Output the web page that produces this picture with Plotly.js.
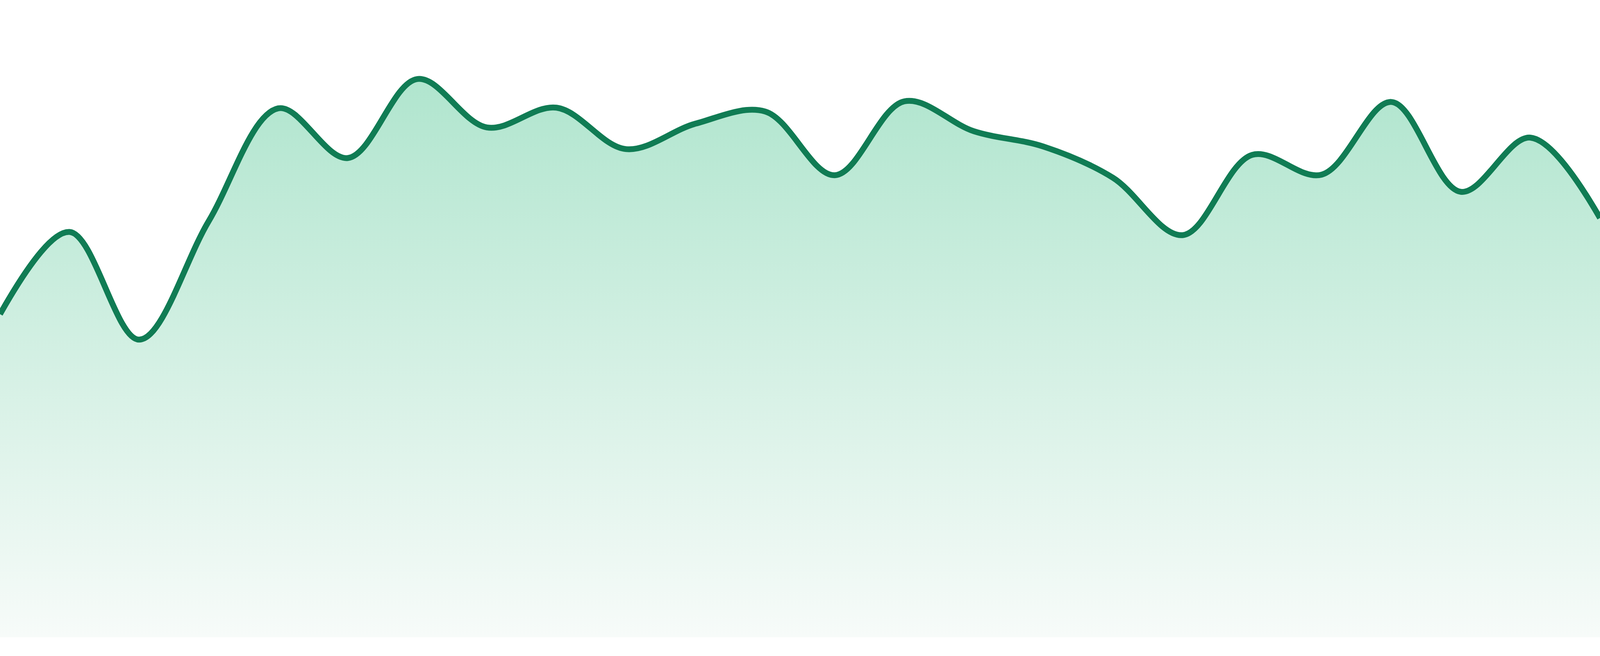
<!DOCTYPE html>
<html>
<head>
<meta charset="utf-8">
<script src="https://cdn.plot.ly/plotly-3.0.1.min.js"></script>
<style>
	html, body { margin: 0; padding: 0; background: #fff; overflow: hidden; }
	#chart { width: 100vw; height: 100vh; }
</style>
</head>
<body>
<div id="chart"></div>
<script>
/* Smooth area sparkline with a fading green fill. */
"use strict";

// 24 evenly spaced samples
const steps = [0, 1, 2, 3, 4, 5, 6, 7, 8, 9, 10, 11, 12, 13, 14, 15, 16, 17, 18, 19, 20, 21, 22, 23];
const values = [
	50.7, 63.6, 46.7, 65.3, 83.0, 75.2, 87.6, 80.0,
	83.1, 76.6, 80.6, 82.5, 72.5, 84.1, 79.4, 77.0,
	72.1, 63.1, 75.7, 72.6, 84.0, 69.9, 78.4, 65.8
];

const LINE = "#107c54";
const FILL_TOP = "#a6e2c8";
const FILL_BOTTOM = "#f7fbf9";

(function () {
	// the chart fills the whole window, whatever size it really is
	const W = window.innerWidth || 4800;
	const H = window.innerHeight || 1680;

	const trace = {
		x: steps,
		y: values,
		type: "scatter",
		mode: "lines",
		line: { color: LINE, width: 15, shape: "spline", smoothing: 1 },
		fill: "tozeroy",
		fillgradient: {
			type: "vertical",
			start: 0,
			stop: 100,
			colorscale: [[0, FILL_BOTTOM], [1, FILL_TOP]],
		},
		hoverinfo: "skip",
		showlegend: false,
	};

	const layout = {
		width: W,
		height: H,
		margin: { t: 0, r: 0, b: Math.round(H * 48 / 1680), l: 0 },
		paper_bgcolor: "#ffffff",
		plot_bgcolor: "#ffffff",
		xaxis: { range: [0, 23], visible: false, fixedrange: true },
		yaxis: { range: [0, 100], visible: false, fixedrange: true },
		showlegend: false,
	};

	Plotly.newPlot("chart", [trace], layout, { displayModeBar: false, staticPlot: true });
})();
</script>
</body>
</html>
